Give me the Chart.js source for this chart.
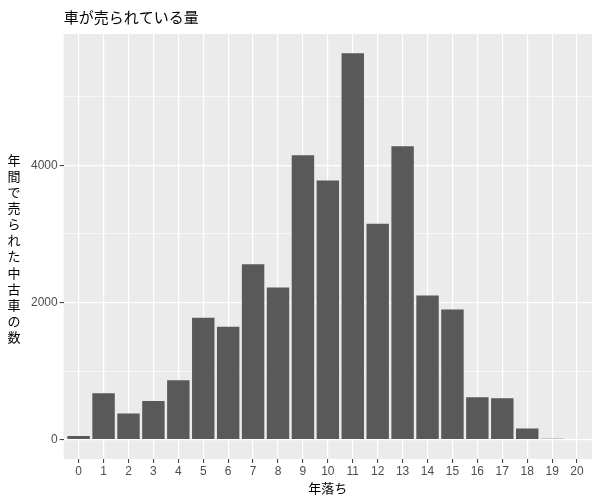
<!DOCTYPE html>
<html>
<head>
<meta charset="utf-8">
<script src="https://cdn.jsdelivr.net/npm/chart.js@4/dist/chart.umd.min.js"></script>
<style>
  html, body { margin: 0; padding: 0; background: #ffffff; }
  #wrap { width: 600px; height: 500px; }
</style>
</head>
<body>
<div id="wrap"><canvas id="chart"></canvas></div>
<script>
// 年落ち (years since first registration) and cars sold per year
const ages = ['0', '1', '2', '3', '4', '5', '6', '7', '8', '9', '10',
              '11', '12', '13', '14', '15', '16', '17', '18', '19', '20'];
const counts = [55, 676, 382, 563, 868, 1779, 1647, 2559, 2220, 4147, 3779,
                5632, 3147, 4279, 2103, 1897, 618, 603, 162, 15, 0];
const yMajorTicks = [0, 2000, 4000];
const yMinorTicks = [1000, 3000, 5000];

const chartTitle = '車が売られている量';
const xTitle = '年落ち';
const yTitle = '年間で売られた中古車の数';

const FONT_LATIN = '"Liberation Sans", Arial, "Noto Sans CJK JP", sans-serif';
const FONT_JP = '"Noto Sans CJK JP", "Liberation Sans", sans-serif';

// ggplot-ish panel: grey background behind the bars
const panelBackground = {
    id: 'panelBackground',
    beforeDraw(chart) {
        const { ctx, chartArea } = chart;
        ctx.save();
        ctx.fillStyle = '#EBEBEB';
        ctx.fillRect(chartArea.left, chartArea.top,
                     chartArea.right - chartArea.left, chartArea.bottom - chartArea.top);
        ctx.restore();
    }
};

// y title is written one character per line, not rotated
const stackedYTitle = {
    id: 'stackedYTitle',
    afterDraw(chart) {
        const { ctx, chartArea } = chart;
        const chars = Array.from(yTitle);
        const lineH = 16.1;
        const mid = (chartArea.top + chartArea.bottom) / 2 + 2;
        const start = mid - (chars.length - 1) * lineH / 2;
        ctx.save();
        ctx.fillStyle = '#000000';
        ctx.font = '13px ' + FONT_JP;
        ctx.textAlign = 'center';
        ctx.textBaseline = 'middle';
        chars.forEach((c, i) => ctx.fillText(c, 14, start + i * lineH));
        ctx.restore();
    }
};

const yMax = Math.max(...counts);
const ctx = document.getElementById('chart').getContext('2d');

new Chart(ctx, {
    type: 'bar',
    data: {
        datasets: [{
            data: ages.map((a, i) => ({ x: Number(a), y: counts[i] })),
            backgroundColor: '#595959',
            borderWidth: 0,
            barPercentage: 0.9,
            categoryPercentage: 1.0
        }]
    },
    options: {
        responsive: true,
        maintainAspectRatio: false,
        animation: false,
        layout: {
            padding: { left: 29, right: 8, top: 2, bottom: 4 }
        },
        plugins: {
            legend: { display: false },
            tooltip: { enabled: false },
            title: {
                display: true,
                text: chartTitle,
                align: 'start',
                fullSize: false,
                color: '#000000',
                font: { family: FONT_JP, size: 15, weight: 'normal' },
                padding: { top: 6, bottom: 8 }
            }
        },
        scales: {
            x: {
                type: 'linear',
                min: -0.6,
                max: 20.6,
                offset: false,
                afterBuildTicks(scale) {
                    scale.ticks = ages.map(a => ({ value: Number(a) }));
                },
                grid: {
                    offset: false,
                    color: '#FFFFFF',
                    lineWidth: 1.2,
                    drawTicks: true,
                    tickLength: 4,
                    tickColor: '#333333',
                    tickWidth: 1
                },
                border: { display: false },
                ticks: {
                    color: '#4D4D4D',
                    font: { family: FONT_LATIN, size: 12 },
                    padding: 1,
                    maxRotation: 0,
                    autoSkip: false,
                    callback: (v) => String(v)
                },
                title: {
                    display: true,
                    text: xTitle,
                    color: '#000000',
                    font: { family: FONT_JP, size: 13 },
                    padding: { top: 1, bottom: 0 }
                }
            },
            y: {
                min: -yMax * 0.05,
                max: yMax * 1.05,
                afterBuildTicks(scale) {
                    scale.ticks = yMajorTicks.concat(yMinorTicks)
                        .sort((a, b) => a - b)
                        .map(v => ({ value: v }));
                },
                grid: {
                    color: '#FFFFFF',
                    lineWidth: (c) => yMajorTicks.includes(c.tick && c.tick.value) ? 1.2 : 0.6,
                    drawTicks: true,
                    tickLength: 4,
                    tickColor: (c) => yMajorTicks.includes(c.tick && c.tick.value) ? '#333333' : 'rgba(0,0,0,0)',
                    tickWidth: 1
                },
                border: { display: false },
                ticks: {
                    color: '#4D4D4D',
                    font: { family: FONT_LATIN, size: 12 },
                    padding: 2,
                    autoSkip: false,
                    callback: (v) => yMajorTicks.includes(v) ? String(v) : ''
                }
            }
        }
    },
    plugins: [panelBackground, stackedYTitle]
});
</script>
</body>
</html>
